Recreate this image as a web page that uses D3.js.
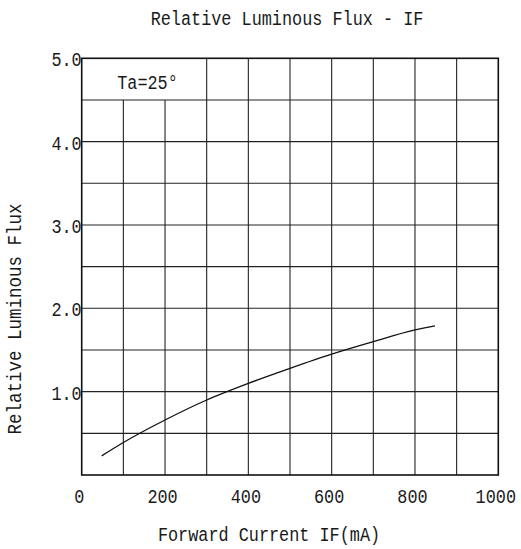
<!DOCTYPE html>
<html><head><meta charset="utf-8">
<script src="https://cdn.jsdelivr.net/npm/d3@7"></script>
<style>
html,body{margin:0;padding:0;background:#fff;}
text{font-family:"Liberation Mono","DejaVu Sans Mono",monospace;fill:#1a1a1a;}
</style></head>
<body><svg id="c" width="521" height="549"></svg>
<script>
const titleText = "Relative Luminous Flux - IF";
const xLabel = "Forward Current IF(mA)";
const yLabel = "Relative Luminous Flux";
const noteText = "Ta=25°";
const xTicks = [0, 200, 400, 600, 800, 1000];
const yTicks = [1.0, 2.0, 3.0, 4.0, 5.0];
const xGrid = [100,200,300,400,500,600,700,800,900];
const yGrid = [0.5,1.0,1.5,2.0,2.5,3.0,3.5,4.0,4.5];
const currentIF = [48, 100, 200, 300, 400, 500, 600, 700, 800, 848];
const relFlux   = [0.23, 0.39, 0.66, 0.90, 1.10, 1.28, 1.45, 1.60, 1.74, 1.79];

const svg = d3.select("#c");
const L = 81.7, R = 498.3, T = 58.3, B = 475;
const x = d3.scaleLinear().domain([0,1000]).range([L,R]);
const y = d3.scaleLinear().domain([0,5]).range([B,T]);
const CW = 10.1, FS = 20.5;

function txt(s, px, py, anchor){
  return svg.append("text").attr("x",px).attr("y",py).attr("text-anchor",anchor)
    .attr("font-size",FS).attr("textLength", s.length*CW).attr("lengthAdjust","spacingAndGlyphs").text(s);
}

// grid
const g = svg.append("g").attr("stroke","#222").attr("stroke-width",1.1).attr("fill","none");
g.selectAll(".hg").data(yGrid).enter().append("line")
  .attr("x1",L).attr("x2",R).attr("y1",d=>y(d)).attr("y2",d=>y(d));
g.selectAll(".vg").data(xGrid).enter().append("line")
  .attr("x1",d=>x(d)).attr("x2",d=>x(d)).attr("y1",B)
  .attr("y2",d=> d<300 ? y(4.5) : T);
// border
svg.append("rect").attr("x",L).attr("y",T).attr("width",R-L).attr("height",B-T)
  .attr("fill","none").attr("stroke","#111").attr("stroke-width",1.6);

// curve
const pts = currentIF.map((v,i)=>[v, relFlux[i]]);
svg.append("path").datum(pts)
  .attr("d", d3.line().x(d=>x(d[0])).y(d=>y(d[1])).curve(d3.curveMonotoneX))
  .attr("fill","none").attr("stroke","#111").attr("stroke-width",1.3);

// axes ticks (labels only)
const xa = svg.append("g").attr("transform",`translate(0,${B})`)
  .call(d3.axisBottom(x).tickValues(xTicks).tickSize(0).tickPadding(0).tickFormat(d3.format("d")));
xa.select(".domain").remove();
xa.selectAll("text").attr("y",28).attr("dy",null).attr("x",-3).attr("font-size",19.5)
  .attr("font-family",null).attr("fill",null)
  .attr("textLength",function(d){return String(d).length*CW;}).attr("lengthAdjust","spacingAndGlyphs");

const ya = svg.append("g").attr("transform",`translate(${L},0)`)
  .call(d3.axisLeft(y).tickValues(yTicks).tickSize(0).tickPadding(0).tickFormat(d3.format(".1f")));
ya.select(".domain").remove();
ya.selectAll("text").attr("x",0).attr("dy","0.36em").attr("font-size",FS)
  .attr("font-family",null).attr("fill",null)
  .attr("textLength",function(d){return 3*CW;}).attr("lengthAdjust","spacingAndGlyphs");

// texts
txt(titleText, 287, 25, "middle");
txt(xLabel, 269, 541, "middle");
txt(noteText, 147.5, 89, "middle");
svg.append("text").attr("transform","translate(21,319) rotate(-90)")
  .attr("text-anchor","middle").attr("font-size",FS)
  .attr("textLength", yLabel.length*10.5).attr("lengthAdjust","spacingAndGlyphs").text(yLabel);
</script></body></html>
